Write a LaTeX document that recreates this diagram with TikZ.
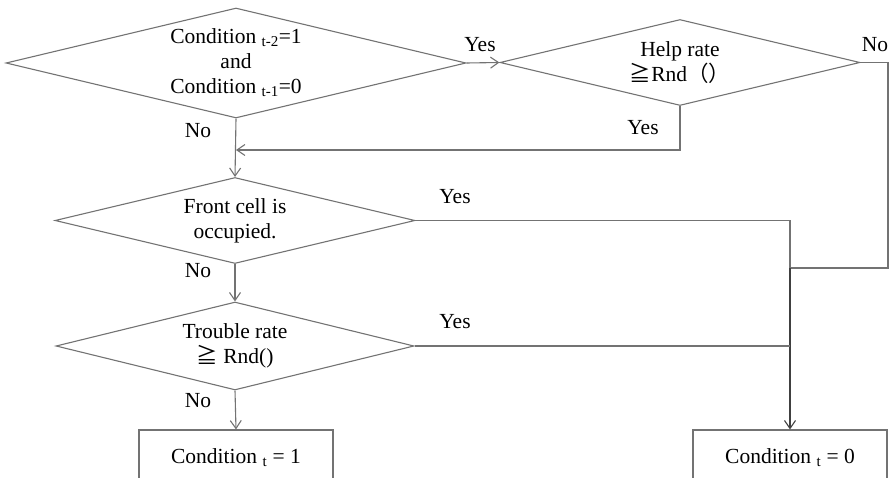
\documentclass[tikz,border=0pt]{standalone}
\usepackage{fontspec}
\setmainfont{Liberation Serif}
\newfontfamily\cjk{Noto Sans CJK SC}
\usetikzlibrary{shapes.geometric,arrows.meta}
\definecolor{linegray}{rgb}{0.45,0.45,0.45}
\definecolor{darkline}{rgb}{0.25,0.25,0.25}
\begin{document}
\begin{tikzpicture}[x=1pt,y=-1pt,
  every node/.style={font=\fontsize{21.5}{25}\selectfont, text=black},
  decision/.style={diamond, draw=linegray, line width=1.1pt, inner sep=0pt,
    align=center, aspect=4.18},
  outbox/.style={rectangle, draw=linegray, line width=1.1pt,
    minimum width=194pt, minimum height=56pt, inner sep=0pt},
  flow/.style={draw=linegray, line width=1.1pt},
  arr/.style={-{Straight Barb[length=8pt,width=11pt]}},
  lbl/.style={inner sep=0pt}
]
\useasboundingbox (0,0) rectangle (891,478);
\clip (0,0) rectangle (891,478);

% decisions
\node[decision, minimum width=460pt, minimum height=110pt] (d1) at (236,63)
  {Condition \textsubscript{t-2}=1\\and\\Condition \textsubscript{t-1}=0};
\node[decision, minimum width=360pt, minimum height=86pt] (d2) at (680,62.5)
  {Help rate\\{\cjk ≧}Rnd{\cjk （）}};
\node[decision, minimum width=360pt, minimum height=86pt] (d3) at (235,220.5)
  {Front cell is\\occupied.};
\node[decision, minimum width=358pt, minimum height=88pt] (d4) at (235,346)
  {Trouble rate\\{\cjk ≧} Rnd()};

% outcomes
\node[outbox] (c1) at (236,458) {Condition \textsubscript{t} = 1};
\node[outbox] (c0) at (790,458) {Condition \textsubscript{t} = 0};

% junction points
\coordinate (j1) at (236,150);
\coordinate (j2) at (790,268);
\coordinate (j3) at (790,346);

% connectors
\draw[flow, arr] (d1.east) -- (d2.west);
\draw[flow] (d2.east) -- (888,62.5) |- (j2);
\draw[flow, arr] (d2.south) |- (j1);
\draw[flow, arr] (d1.south) -- (d3.north);
\draw[flow] (d3.east) -| (j2);
\draw[flow, draw=darkline, arr] (j2) -- (c0.north);
\draw[flow, arr] (d3.south) -- (d4.north);
\draw[flow] (d4.east) -- (j3);
\draw[flow, arr] (d4.south) -- (c1.north);

% branch labels
\node[lbl] (y1) at (480,45) {Yes};
\node[lbl] (n2) at (875,45) {No};
\node[lbl] (y2) at (643,128) {Yes};
\node[lbl] (n1) at (198,131) {No};
\node[lbl] (y3) at (455,197) {Yes};
\node[lbl] (n3) at (198,271) {No};
\node[lbl] (y4) at (455,322) {Yes};
\node[lbl] (n4) at (198,401) {No};
\end{tikzpicture}
\end{document}
